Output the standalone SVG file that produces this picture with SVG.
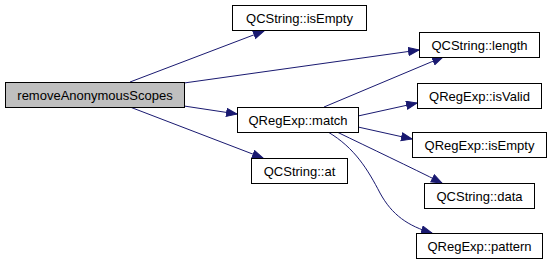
<svg xmlns="http://www.w3.org/2000/svg" width="552" height="265" viewBox="0 0 552 265">
  <style>
    .node rect { fill: #ffffff; stroke: #000000; stroke-width: 1; }
    .node.root rect { fill: #bfbfbf; }
    .node text { font-family: "Liberation Sans", Arial, sans-serif; font-size: 13px; fill: #000000; text-anchor: middle; }
    .edges path { fill: none; stroke: #191970; stroke-width: 1; marker-end: url(#arrow); }
  </style>
  <defs>
    <marker id="arrow" markerWidth="13" markerHeight="10" refX="11" refY="4.5" orient="auto" markerUnits="userSpaceOnUse">
      <path d="M0.5,0.5 L11,4.5 L0.5,8.5 z" fill="#191970" stroke="#191970" stroke-width="1"/>
    </marker>
  </defs>
  <rect width="552" height="265" fill="#ffffff"/>

  <!-- call edges -->
  <g class="edges" id="edges">
    <path d="M130,82 L264,31"/>
    <path d="M184,83 L419,50"/>
    <path d="M184,106 L237,114"/>
    <path d="M130,107 L263,158"/>
    <path d="M324,107 L443,57"/>
    <path d="M358,116 L417,103"/>
    <path d="M358,127 L412,139"/>
    <path d="M337,132 C370,148 410,167 442,183"/>
    <path d="M328,132 C355,148 368,170 380,193 C392,215 408,226 432,233"/>
  </g>

  <!-- functions -->
  <g class="node root" id="node-removeAnonymousScopes">
    <rect x="5.5" y="82.5" width="179" height="25"/>
    <text x="95" y="99.5">removeAnonymousScopes</text>
  </g>
  <g class="node" id="node-qcstring-isempty">
    <rect x="232.5" y="5.5" width="134" height="25"/>
    <text x="299.5" y="22.5">QCString::isEmpty</text>
  </g>
  <g class="node" id="node-qregexp-match">
    <rect x="237.5" y="107.5" width="121" height="25"/>
    <text x="298" y="124.5">QRegExp::match</text>
  </g>
  <g class="node" id="node-qcstring-at">
    <rect x="251.5" y="158.5" width="96" height="25"/>
    <text x="299.5" y="175.5">QCString::at</text>
  </g>
  <g class="node" id="node-qcstring-length">
    <rect x="419.5" y="32.5" width="120" height="25"/>
    <text x="479.5" y="49.5">QCString::length</text>
  </g>
  <g class="node" id="node-qregexp-isvalid">
    <rect x="417.5" y="83.5" width="124" height="25"/>
    <text x="479.5" y="100.5">QRegExp::isValid</text>
  </g>
  <g class="node" id="node-qregexp-isempty">
    <rect x="412.5" y="132.5" width="134" height="25"/>
    <text x="479.5" y="149.5">QRegExp::isEmpty</text>
  </g>
  <g class="node" id="node-qcstring-data">
    <rect x="424.5" y="183.5" width="110" height="25"/>
    <text x="479.5" y="200.5">QCString::data</text>
  </g>
  <g class="node" id="node-qregexp-pattern">
    <rect x="416.5" y="233.5" width="126" height="25"/>
    <text x="479.5" y="250.5">QRegExp::pattern</text>
  </g>
</svg>
